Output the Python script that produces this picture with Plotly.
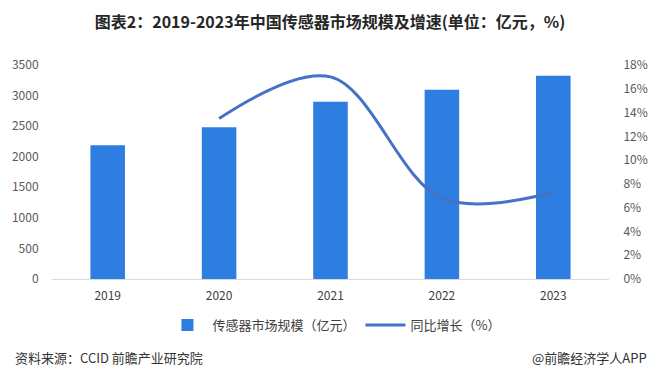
import plotly.graph_objects as go

years = ["2019", "2020", "2021", "2022", "2023"]
market_size = [2186, 2480, 2900, 3096, 3325]
growth_years = ["2020", "2021", "2022", "2023"]
growth_rate = [13.5, 17.0, 6.8, 7.3]

left_ticks = [0, 500, 1000, 1500, 2000, 2500, 3000, 3500]
right_ticks = [0, 2, 4, 6, 8, 10, 12, 14, 16, 18]

W, H = 660, 380
L, R, T, B = 48, 45, 65, 101
pw = W - L - R
ph = H - T - B

def px_x(x):
    return (x - L) / pw

def px_y(y):
    return (H - B - y) / ph

fig = go.Figure()
fig.add_trace(go.Bar(
    x=years, y=market_size, name="传感器市场规模（亿元）",
    marker=dict(color="#2E7DE0", line=dict(width=0)),
    yaxis="y",
))
fig.add_trace(go.Scatter(
    x=growth_years, y=growth_rate, name="同比增长（%）",
    mode="lines", line=dict(color="#4472C4", width=3, shape="spline", smoothing=1.0),
    yaxis="y2",
))

font_family = "Noto Sans CJK SC, Noto Sans, sans-serif"
clear = "rgba(0,0,0,0)"

fig.update_layout(
    width=W, height=H,
    margin=dict(l=L, r=R, t=T, b=B, pad=0),
    paper_bgcolor="white", plot_bgcolor="white",
    font=dict(family=font_family, color="#595959", size=12),
    bargap=0.69,
    title=dict(
        text="<b>图表2：2019-2023年中国传感器市场规模及增速(单位：亿元，%)</b>",
        x=0.5, xanchor="center", xref="container",
        y=1 - 22 / H, yanchor="middle", yref="container",
        font=dict(size=16, color="#262626", family=font_family),
    ),
    xaxis=dict(
        type="category", showgrid=False, showline=True, linecolor="#D9D9D9",
        linewidth=1, ticks="outside", ticklen=6, tickcolor=clear,
        tickfont=dict(size=12, color="#404040"), zeroline=False,
    ),
    yaxis=dict(
        range=[0, 3500], tickvals=left_ticks, showgrid=False, zeroline=False,
        showline=False, ticks="outside", ticklen=10, tickcolor=clear,
        tickfont=dict(size=12, color="#595959"),
    ),
    yaxis2=dict(
        range=[0, 18], tickvals=right_ticks, ticktext=[f"{v}%" for v in right_ticks],
        overlaying="y", side="right", showgrid=False, zeroline=False,
        showline=False, ticks="outside", ticklen=11, tickcolor=clear,
        tickfont=dict(size=12, color="#595959"),
    ),
    legend=dict(
        orientation="h", x=px_x(335), xanchor="center", y=px_y(325), yanchor="middle",
        font=dict(size=13, color="#404040"), bgcolor=clear, itemwidth=40,
    ),
    showlegend=True,
)

fig.add_annotation(
    text="资料来源：CCID 前瞻产业研究院", xref="paper", yref="paper",
    x=px_x(8), y=px_y(357), xanchor="left", yanchor="middle",
    showarrow=False, font=dict(size=13, color="#333333", family=font_family),
)
fig.add_annotation(
    text="@前瞻经济学人APP", xref="paper", yref="paper",
    x=px_x(656), y=px_y(357), xanchor="right", yanchor="middle",
    showarrow=False, font=dict(size=13, color="#333333", family=font_family),
)

fig.write_html(
    "out.html",
    config={"displayModeBar": False},
    post_script="document.body.style.margin='0';document.body.style.overflow='hidden';",
)
